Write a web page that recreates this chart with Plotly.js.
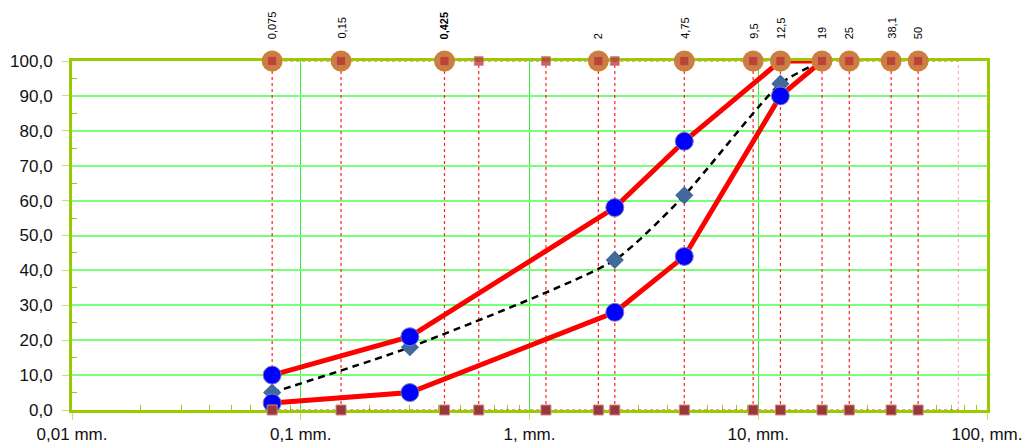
<!DOCTYPE html>
<html><head><meta charset="utf-8">
<script src="https://cdn.plot.ly/plotly-3.0.1.min.js"></script>
<style>html,body{margin:0;padding:0;background:#fff}#chart{width:1027px;height:447px}</style>
</head><body><div id="chart"></div>
<script>
// Sieve sizes (mm) with vertical reference lines
const sieveSizes = [0.075,0.15,0.425,0.6,1.18,2,2.36,4.75,9.5,12.5,19,25,38.1,50];
// Labeled sieve sizes (orange circles on top)
const labeledSizes = [0.075,0.15,0.425,2,4.75,9.5,12.5,19,25,38.1,50];
const labeledText = ["0,075","0,15","0,425","2","4,75","9,5","12,5","19","25","38,1","50"];
// Grading curves
const gradSizes = [0.075,0.3,2.36,4.75,12.5,19];
const upperLimit = [10,21,58,77,100,100];
const lowerLimit = [2,5,28,44,90,100];
const sample = [5,18,43,61.5,93.5,100];
// Pale extra line
const extraLine = [75];
// Axis ticks
const xTickVals = [0.01,0.1,1,10,100];
const xTickText = ["0,01 mm.","0,1 mm.","1, mm.","10, mm.","100, mm."];
const yTickVals = [0,10,20,30,40,50,60,70,80,90,100];

const vx = [], vy = [];
sieveSizes.forEach(s => { vx.push(s, s, null); vy.push(0, 100, null); });

const minorX = [];
for (let k = -2; k <= 1; k++) for (let m = 2; m <= 9; m++) minorX.push(m * Math.pow(10, k));
const minorY = [];
for (let v = 5; v < 100; v += 10) minorY.push(v);

const blueMarker = { symbol: 'circle', size: 18, color: '#0000ff', line: { color: '#7a7ab8', width: 1 } };

const traces = [
  { x: [extraLine[0], extraLine[0]], y: [0, 100], mode: 'lines',
    line: { color: 'rgba(255,120,120,0.6)', width: 1.2, dash: 'dot' }, hoverinfo: 'skip' },
  { x: [sieveSizes[0], extraLine[0]], y: [0, 0], mode: 'lines',
    line: { color: '#e03030', width: 1.2, dash: 'dot' }, hoverinfo: 'skip' },
  { x: [sieveSizes[0], extraLine[0]], y: [100, 100], mode: 'lines',
    line: { color: '#d05020', width: 1.2, dash: 'dot' }, hoverinfo: 'skip' },
  { x: vx, y: vy, mode: 'lines', connectgaps: false,
    line: { color: '#ff2020', width: 1.2, dash: 'dot' }, hoverinfo: 'skip' },
  { x: gradSizes, y: sample, mode: 'lines+markers', cliponaxis: false,
    line: { color: '#000000', width: 2.5, dash: '7px,5px', shape: 'spline', smoothing: 0.6 },
    marker: { symbol: 'diamond', size: 14, color: '#41699b' } },
  { x: gradSizes, y: upperLimit, mode: 'lines+markers', cliponaxis: false,
    line: { color: '#ff0000', width: 5 }, marker: blueMarker },
  { x: gradSizes, y: lowerLimit, mode: 'lines+markers', cliponaxis: false,
    line: { color: '#ff0000', width: 5 }, marker: blueMarker },
  { x: labeledSizes, y: labeledSizes.map(() => 100), mode: 'markers', cliponaxis: false,
    marker: { symbol: 'circle', size: 21, color: '#cd7d3c' }, hoverinfo: 'skip' },
  { x: sieveSizes, y: sieveSizes.map(() => 0), mode: 'markers', cliponaxis: false,
    marker: { symbol: 'square', size: 10, color: '#993838', line: { color: '#c88', width: 1 } }, hoverinfo: 'skip' },
  { x: sieveSizes, y: sieveSizes.map(() => 100), mode: 'markers', cliponaxis: false,
    marker: { symbol: 'square', size: 9, color: 'rgba(180,50,50,0.75)', line: { color: 'rgba(200,130,130,0.6)', width: 1 } }, hoverinfo: 'skip' }
];

const annotations = labeledSizes.map((s, i) => ({
  x: Math.log10(s), y: 1, xref: 'x', yref: 'paper',
  text: labeledText[i], showarrow: false, textangle: -90,
  xanchor: 'center', yanchor: 'bottom', yshift: 20,
  font: { family: 'Liberation Sans, Arial, sans-serif', size: 11, color: '#000',
          weight: labeledText[i] === '0,425' ? 'bold' : 'normal' }
}));

const layout = {
  width: 1027, height: 447,
  margin: { l: 72, r: 40, t: 61, b: 37, pad: 0 },
  paper_bgcolor: '#ffffff', plot_bgcolor: '#ffffff',
  showlegend: false,
  separators: ',.',
  font: { family: 'Liberation Sans, Arial, sans-serif', size: 17, color: '#111' },
  xaxis: {
    type: 'log', range: [-2, 2], layer: 'below traces',
    tickmode: 'array', tickvals: xTickVals, ticktext: xTickText,
    ticks: 'outside', ticklen: 7, tickwidth: 1, tickcolor: '#c8e070',
    showgrid: true, gridcolor: '#33ee33', gridwidth: 1,
    showline: true, linecolor: '#99cc00', linewidth: 3, mirror: true,
    zeroline: false,
    minor: { tickmode: 'array', tickvals: minorX, ticks: 'inside', ticklen: 5, tickwidth: 1, tickcolor: '#99cc00', showgrid: false },
    tickfont: { size: 17 }
  },
  yaxis: {
    range: [0, 100], layer: 'below traces',
    tickmode: 'array', tickvals: yTickVals, tickformat: '.1f',
    ticks: 'outside', ticklen: 7, tickwidth: 1, tickcolor: '#c8e070',
    ticklabelstandoff: 6,
    showgrid: true, gridcolor: '#77ff77', gridwidth: 2,
    showline: true, linecolor: '#99cc00', linewidth: 3, mirror: true,
    zeroline: false,
    minor: { tickmode: 'array', tickvals: minorY, ticks: 'inside', ticklen: 5, tickwidth: 1, tickcolor: '#99cc00', showgrid: false },
    tickfont: { size: 17 }
  },
  annotations: annotations
};

Plotly.newPlot('chart', traces, layout, { displayModeBar: false, staticPlot: true });
</script>
</body></html>
